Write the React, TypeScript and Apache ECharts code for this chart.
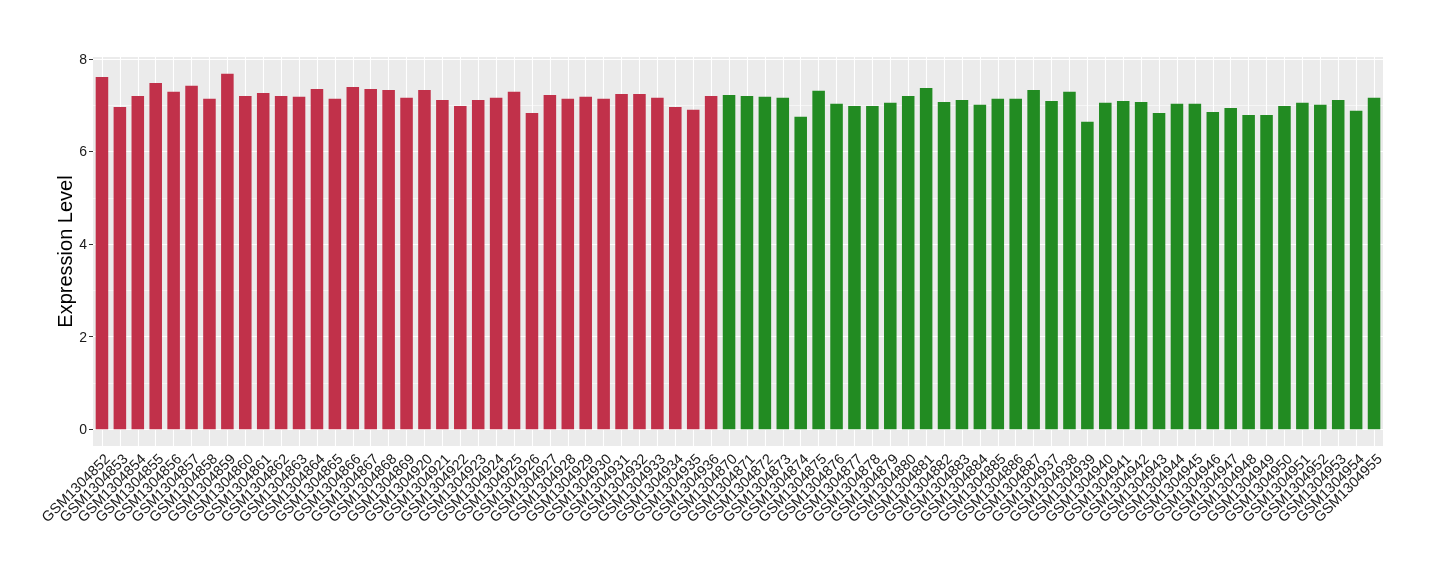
import React, { useEffect, useRef } from "react";
import * as echarts from "echarts";

const redSamples = [
  "GSM1304852", "GSM1304853", "GSM1304854", "GSM1304855", "GSM1304856", "GSM1304857",
  "GSM1304858", "GSM1304859", "GSM1304860", "GSM1304861", "GSM1304862", "GSM1304863",
  "GSM1304864", "GSM1304865", "GSM1304866", "GSM1304867", "GSM1304868", "GSM1304869",
  "GSM1304920", "GSM1304921", "GSM1304922", "GSM1304923", "GSM1304924", "GSM1304925",
  "GSM1304926", "GSM1304927", "GSM1304928", "GSM1304929", "GSM1304930", "GSM1304931",
  "GSM1304932", "GSM1304933", "GSM1304934", "GSM1304935", "GSM1304936",
];
const redValues = [
  7.61, 6.96, 7.2, 7.48, 7.29, 7.42, 7.14, 7.68, 7.2, 7.26, 7.2, 7.18,
  7.35, 7.14, 7.39, 7.35, 7.33, 7.16, 7.33, 7.11, 6.98, 7.11, 7.16, 7.29,
  6.83, 7.22, 7.14, 7.18, 7.14, 7.24, 7.24, 7.16, 6.96, 6.9, 7.2,
];
const greenSamples = [
  "GSM1304870", "GSM1304871", "GSM1304872", "GSM1304873", "GSM1304874", "GSM1304875",
  "GSM1304876", "GSM1304877", "GSM1304878", "GSM1304879", "GSM1304880", "GSM1304881",
  "GSM1304882", "GSM1304883", "GSM1304884", "GSM1304885", "GSM1304886", "GSM1304887",
  "GSM1304937", "GSM1304938", "GSM1304939", "GSM1304940", "GSM1304941", "GSM1304942",
  "GSM1304943", "GSM1304944", "GSM1304945", "GSM1304946", "GSM1304947", "GSM1304948",
  "GSM1304949", "GSM1304950", "GSM1304951", "GSM1304952", "GSM1304953", "GSM1304954",
  "GSM1304955",
];
const greenValues = [
  7.22, 7.2, 7.18, 7.16, 6.75, 7.31, 7.03, 6.98, 6.98, 7.05, 7.2, 7.37,
  7.07, 7.11, 7.01, 7.14, 7.14, 7.33, 7.09, 7.29, 6.64, 7.05, 7.09, 7.07,
  6.83, 7.03, 7.03, 6.85, 6.94, 6.79, 6.79, 6.98, 7.05, 7.01, 7.11, 6.88,
  7.16,
];
const yTicks = [0, 2, 4, 6, 8];
const yMinor = [1, 3, 5, 7];

const RED = "#C1314A";
const GREEN = "#228B22";
const FONT = "'Liberation Sans', Arial, Helvetica, sans-serif";

export default function App() {
  const ref = useRef<HTMLDivElement>(null);
  useEffect(() => {
    if (!ref.current) return;
    const chart = echarts.init(ref.current, null, { renderer: "svg" });
    const categories = [...redSamples, ...greenSamples];
    const barData = [
      ...redValues.map((v) => ({ value: v, itemStyle: { color: RED } })),
      ...greenValues.map((v) => ({ value: v, itemStyle: { color: GREEN } })),
    ];
    const gridLines = [
      ...categories.map((c) => ({ xAxis: c, lineStyle: { width: 1.1 } })),
      ...yTicks.map((v) => ({ yAxis: v, lineStyle: { width: 1.1 } })),
      ...yMinor.map((v) => ({ yAxis: v, lineStyle: { width: 0.55 } })),
    ];
    chart.setOption({
      animation: false,
      grid: {
        left: 93,
        right: 57,
        top: 57,
        bottom: 134,
        show: true,
        backgroundColor: "#EBEBEB",
        borderWidth: 0,
        containLabel: false,
      },
      xAxis: {
        type: "category",
        data: categories,
        boundaryGap: true,
        axisLine: { show: false },
        axisTick: {
          show: true,
          alignWithLabel: true,
          length: 4,
          lineStyle: { color: "#333333", width: 1 },
        },
        splitLine: { show: false },
        axisLabel: {
          interval: 0,
          rotate: 45,
          margin: 5,
          verticalAlign: "top",
          fontFamily: FONT,
          fontSize: 14.5,
          color: "#1A1A1A",
        },
      },
      yAxis: {
        type: "value",
        min: -0.36,
        max: 8.04,
        name: "Expression Level",
        nameLocation: "middle",
        nameGap: 18,
        nameMoveOverlap: false,
        nameTextStyle: { fontFamily: FONT, fontSize: 20, color: "#000000" },
        axisLine: { show: false },
        splitLine: { show: false },
        axisTick: {
          show: true,
          length: 4,
          customValues: yTicks,
          lineStyle: { color: "#333333", width: 1 },
        },
        axisLabel: {
          customValues: yTicks,
          margin: 6,
          fontFamily: FONT,
          fontSize: 14,
          color: "#1A1A1A",
        },
      },
      series: [
        {
          type: "line",
          data: [],
          z: 1,
          silent: true,
          markLine: {
            z: 1,
            silent: true,
            symbol: ["none", "none"],
            label: { show: false },
            lineStyle: { color: "#FFFFFF", type: "solid" },
            emphasis: { disabled: true },
            data: gridLines,
          },
        },
        {
          type: "bar",
          data: barData,
          barCategoryGap: "30%",
          z: 3,
        },
      ],
    });
    return () => chart.dispose();
  }, []);
  return (
    <div
      ref={ref}
      style={{ position: "fixed", left: 0, top: 0, width: 1440, height: 580 }}
    />
  );
}
